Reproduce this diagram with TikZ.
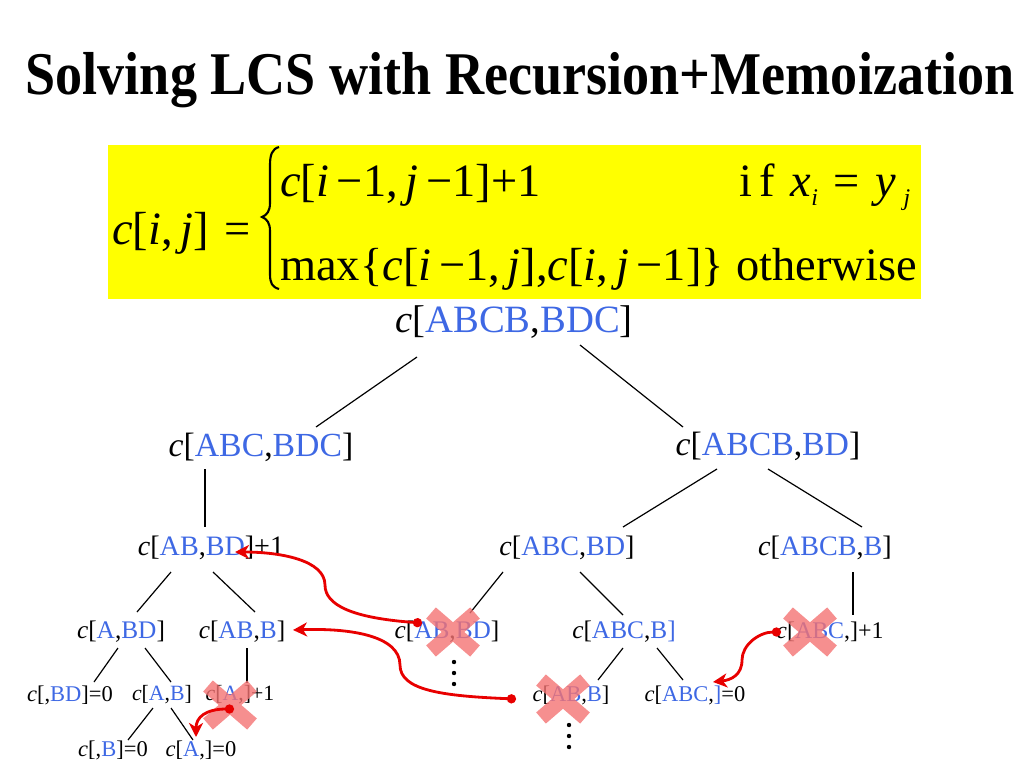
\documentclass[tikz,border=0pt]{standalone}
\usepackage{fontspec}
\setmainfont{Liberation Serif}
\usetikzlibrary{arrows.meta,calc}
\definecolor{seqblue}{RGB}{62,104,228}
\definecolor{hilite}{RGB}{255,255,0}
\definecolor{crossred}{RGB}{244,115,115}
\definecolor{memored}{RGB}{232,0,0}
\newcommand{\fs}[1]{\fontsize{#1}{#1}\selectfont}
\newcommand{\sq}[1]{\textcolor{seqblue}{#1}}
\newcommand{\cc}[2]{\textit{c}[\sq{#1},\sq{#2}]}
\newcommand{\sbs}[1]{\raisebox{-7pt}{\fs{17}\textit{#1}}}
\tikzset{
  call/.style={inner sep=0pt, font=\fs{#1}},
  edge/.style={line width=0.85pt},
  memo/.style={{Circle[length=6.5pt]}-{Stealth[length=10pt,width=10pt,inset=3pt]}, draw=memored, line width=2pt},
  xmark/.style={draw=crossred, line width=10.5pt, opacity=0.8},
  crossout/.pic={\draw[xmark] (-22,-19) -- (22,19) (-22,19) -- (22,-19);},
}

\begin{document}
\begin{tikzpicture}[x=0.025cm,y=-0.025cm]
  \useasboundingbox (0,0) rectangle (1024,768);
  \node[call=38.5, anchor=base] (title) at (520,95) {\scalebox{1}[1.12]{\bfseries Solving LCS with Recursion+Memoization}};

  % recurrence
  \fill[hilite] (108,145) rectangle (921,299);
  \node[call=33, anchor=base west] (lhs) at (112,244) {\textit{c}[\textit{i},\,\textit{j}]\,\,=};
  \draw[line width=1.5pt] (279,147) .. controls (272,149) and (270,155) .. (270,165) -- (270,203)
    .. controls (270,211) and (267,215) .. (262,217) .. controls (267,219) and (270,223) .. (270,231)
    -- (270,274) .. controls (270,283) and (272,287) .. (279,289);
  \node[call=33, anchor=base west] (case1) at (280,196) {\textit{c}[\textit{i}\,−1,\,\textit{j}\,−1]+1};
  \node[call=33, anchor=base west] (case2) at (280,280) {max\{\textit{c}[\textit{i}\,−1,\,\textit{j}],\textit{c}[\textit{i},\,\textit{j}\,−1]\}};
  \node[call=33, anchor=base west] (cond1) at (739,196) {i\,f\,\,\textit{x}\sbs{i}\,\,=\,\,\textit{y}\,\sbs{j}};
  \node[call=33, anchor=base west] (cond2) at (736,280) {otherwise};

  % recursion tree
  \node[call=27.5] (root) at (514,322) {\cc{ABCB}{BDC}};
  \node[call=24] (abcBDC) at (261,447) {\cc{ABC}{BDC}};
  \node[call=24] (abcbBD) at (768,446) {\cc{ABCB}{BD}};
  \node[call=20] (abBD1) at (211,548) {\cc{AB}{BD}+1};
  \node[call=20] (abcBD) at (567,548) {\cc{ABC}{BD}};
  \node[call=20] (abcbB) at (825,548) {\cc{ABCB}{B}};
  \node[call=18] (aBD) at (121,632) {\cc{A}{BD}};
  \node[call=18] (abB) at (242,632) {\cc{AB}{B}};
  \node[call=18] (abBD) at (447,632) {\cc{AB}{BD}};
  \node[call=18] (abcB) at (624,632) {\textit{c}[\sq{ABC},\sq{B]}};
  \node[call=17] (abc1) at (830,632) {\cc{ABC}{}+1};
  \node[call=16] (eBD) at (70,695) {\cc{}{BD}=0};
  \node[call=15.5] (aB) at (162,695) {\cc{A}{B}};
  \node[call=15.5] (a1) at (240,695) {\cc{A}{}+1};
  \node[call=16] (abB2) at (571,695) {\cc{AB}{B}};
  \node[call=16] (abc0) at (695,695) {\textit{c}[\sq{ABC},\sq{]}=0};
  \node[call=16] (eB) at (113,750) {\cc{}{B}=0};
  \node[call=16] (a0) at (201,750) {\cc{A}{}=0};

  \draw[edge] ($(root)+(-97,35)$) -- ($(abcBDC)+(55,-20)$);
  \draw[edge] ($(root)+(66,23)$) -- ($(abcbBD)+(-85,-19)$);
  \draw[edge] ($(abcBDC)+(-56,22)$) -- ($(abBD1)+(-6,-21)$);
  \draw[edge] ($(abcbBD)+(-51,23)$) -- ($(abcBD)+(56,-21)$);
  \draw[edge] ($(abcbBD)+(0,23)$) -- ($(abcbB)+(37,-21)$);
  \draw[edge] ($(abBD1)+(-40,24)$) -- ($(aBD)+(16,-20)$);
  \draw[edge] ($(abBD1)+(2,24)$) -- ($(abB)+(13,-20)$);
  \draw[edge] ($(abcBD)+(-64,24)$) -- ($(abBD)+(23,-19)$);
  \draw[edge] ($(abcBD)+(13,24)$) -- ($(abcB)+(-1,-17)$);
  \draw[edge] ($(abcbB)+(28,24)$) -- ($(abc1)+(23,-17)$);
  \draw[edge] ($(aBD)+(-3,16)$) -- ($(eBD)+(24,-13)$);
  \draw[edge] ($(aBD)+(24,16)$) -- ($(aB)+(9,-13)$);
  \draw[edge] ($(abB)+(5,16)$) -- ($(a1)+(7,-12)$);
  \draw[edge] ($(aB)+(-9,13)$) -- ($(eB)+(15,-10)$);
  \draw[edge] ($(aB)+(9,13)$) -- ($(a0)+(-8,-10)$);
  \draw[edge] ($(abcB)+(-1,16)$) -- ($(abB2)+(27,-15)$);
  \draw[edge] ($(abcB)+(33,16)$) -- ($(abc0)+(-12,-15)$);

  % vertical dots
  \foreach \dy in {30,41,52} {
    \fill ($(abBD)+(7,\dy)$) circle (2.2);
    \fill ($(abB2)+(-2,\dy)$) circle (2.2);
  }

  % memoized calls
  \pic at ($(abBD)+(6,0)$) {crossout};
  \pic at ($(abc1)+(-20,0)$) {crossout};
  \pic at ($(abB2)+(-8,4)$) {crossout};
  \pic at ($(a1)+(-10,10)$) {crossout};

  \draw[memo] ($(abBD)+(-25,-9)$) .. controls +(-70,-5) and +(0,20) .. ++(-97,-38)
    .. controls +(0,-25) and +(45,0) .. ($(abBD1)+(24,4)$);
  \draw[memo] ($(abB2)+(-55,4)$) .. controls +(-75,-3) and +(0,25) .. ++(-116,-34)
    .. controls +(0,-30) and +(55,-2) .. ($(abB)+(51,-2)$);
  \draw[memo] ($(a1)+(-6,14)$) .. controls +(-28,0) and +(0,-20) .. ($(a0)+(-5,-13)$);
  \draw[memo] ($(abc1)+(-49,0)$) .. controls +(-22,0) and +(0,-15) .. ++(-39,28)
    .. controls +(0,15) and +(18,-2) .. ($(abc0)+(18,-13)$);
\end{tikzpicture}
\end{document}
